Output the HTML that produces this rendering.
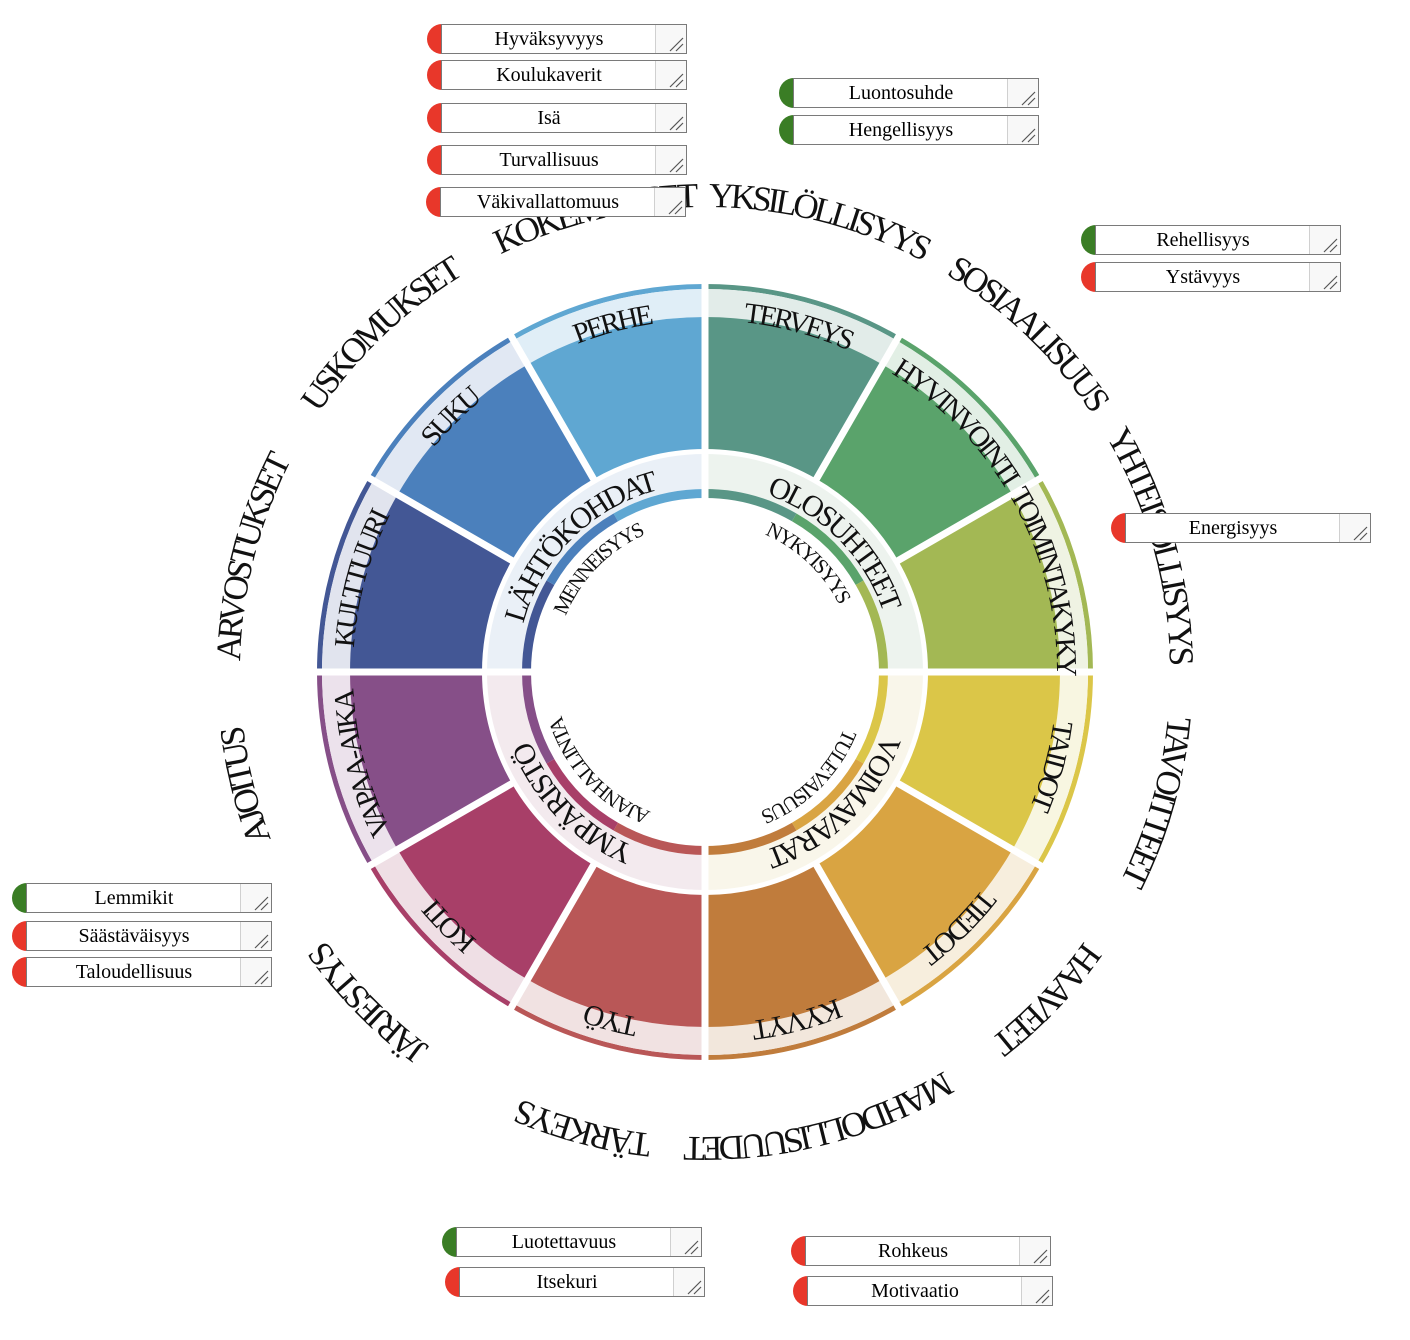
<!DOCTYPE html>
<html><head><meta charset="utf-8">
<style>
html,body{margin:0;padding:0;background:#fff;}
body{width:1410px;height:1340px;position:relative;overflow:hidden;font-family:"Liberation Serif",serif;}
svg{position:absolute;left:0;top:0;}
.t{font-family:"Liberation Serif",serif;fill:#111;}
.b{position:absolute;height:30px;width:262px;}
.b .c{position:absolute;left:0;top:0;width:30px;height:30px;border-radius:15px;}
.b .bx{position:absolute;left:14px;top:0;width:244px;height:28px;border:1px solid #7a7a7a;background:#fff;}
.b .tx{position:absolute;left:0;top:0;width:214px;height:28px;line-height:29px;text-align:center;font-size:20px;color:#000;font-family:"Liberation Serif",serif;}
.b .g{position:absolute;right:0;top:0;width:30px;height:28px;background:#f8f8f8;border-left:1px solid #d0d0d0;}
.b .g svg{position:static;}
.r{background:#e8372a;} .gr{background:#3a7d25;}
</style></head><body>
<svg width="1410" height="1340" viewBox="0 0 1410 1340">
<defs>
<path id="o1" d="M705,207 A465,465 0 1 1 705,1137 A465,465 0 1 1 705,207"/>
<path id="o2" d="M705,1137 A465,465 0 1 1 705,207 A465,465 0 1 1 705,1137"/>
<path id="s1" d="M705,320 A352,352 0 1 1 705,1024 A352,352 0 1 1 705,320"/>
<path id="s2" d="M705,1024 A352,352 0 1 1 705,320 A352,352 0 1 1 705,1024"/>
<path id="q1" d="M705,484 A188,188 0 1 1 705,860 A188,188 0 1 1 705,484"/>
<path id="m1" d="M705,522 A150,150 0 1 1 705,822 A150,150 0 1 1 705,522"/>
</defs>
<g transform="rotate(-90 705 672)" fill="none">
<g stroke-width="5">
<circle cx="705" cy="672" r="385.5" pathLength="360" stroke="#5fa7d2" stroke-dasharray="30 330" stroke-dashoffset="30"/>
<circle cx="705" cy="672" r="385.5" pathLength="360" stroke="#599686" stroke-dasharray="30 330" stroke-dashoffset="0"/>
<circle cx="705" cy="672" r="385.5" pathLength="360" stroke="#5aa36b" stroke-dasharray="30 330" stroke-dashoffset="-30"/>
<circle cx="705" cy="672" r="385.5" pathLength="360" stroke="#a3b854" stroke-dasharray="30 330" stroke-dashoffset="-60"/>
<circle cx="705" cy="672" r="385.5" pathLength="360" stroke="#dbc648" stroke-dasharray="30 330" stroke-dashoffset="-90"/>
<circle cx="705" cy="672" r="385.5" pathLength="360" stroke="#d9a442" stroke-dasharray="30 330" stroke-dashoffset="-120"/>
<circle cx="705" cy="672" r="385.5" pathLength="360" stroke="#c07c3c" stroke-dasharray="30 330" stroke-dashoffset="-150"/>
<circle cx="705" cy="672" r="385.5" pathLength="360" stroke="#b95757" stroke-dasharray="30 330" stroke-dashoffset="-180"/>
<circle cx="705" cy="672" r="385.5" pathLength="360" stroke="#a83f68" stroke-dasharray="30 330" stroke-dashoffset="-210"/>
<circle cx="705" cy="672" r="385.5" pathLength="360" stroke="#864f88" stroke-dasharray="30 330" stroke-dashoffset="-240"/>
<circle cx="705" cy="672" r="385.5" pathLength="360" stroke="#435795" stroke-dasharray="30 330" stroke-dashoffset="-270"/>
<circle cx="705" cy="672" r="385.5" pathLength="360" stroke="#4b80bc" stroke-dasharray="30 330" stroke-dashoffset="-300"/>
</g>
<g stroke-width="28">
<circle cx="705" cy="672" r="369" pathLength="360" stroke="#e0eef7" stroke-dasharray="30 330" stroke-dashoffset="30"/>
<circle cx="705" cy="672" r="369" pathLength="360" stroke="#e2ece9" stroke-dasharray="30 330" stroke-dashoffset="0"/>
<circle cx="705" cy="672" r="369" pathLength="360" stroke="#e2efe5" stroke-dasharray="30 330" stroke-dashoffset="-30"/>
<circle cx="705" cy="672" r="369" pathLength="360" stroke="#eff3e3" stroke-dasharray="30 330" stroke-dashoffset="-60"/>
<circle cx="705" cy="672" r="369" pathLength="360" stroke="#f8f6e1" stroke-dasharray="30 330" stroke-dashoffset="-90"/>
<circle cx="705" cy="672" r="369" pathLength="360" stroke="#f7eedd" stroke-dasharray="30 330" stroke-dashoffset="-120"/>
<circle cx="705" cy="672" r="369" pathLength="360" stroke="#f2e7dc" stroke-dasharray="30 330" stroke-dashoffset="-150"/>
<circle cx="705" cy="672" r="369" pathLength="360" stroke="#f1e2e2" stroke-dasharray="30 330" stroke-dashoffset="-180"/>
<circle cx="705" cy="672" r="369" pathLength="360" stroke="#efdfe5" stroke-dasharray="30 330" stroke-dashoffset="-210"/>
<circle cx="705" cy="672" r="369" pathLength="360" stroke="#ece2ec" stroke-dasharray="30 330" stroke-dashoffset="-240"/>
<circle cx="705" cy="672" r="369" pathLength="360" stroke="#e1e4ee" stroke-dasharray="30 330" stroke-dashoffset="-270"/>
<circle cx="705" cy="672" r="369" pathLength="360" stroke="#e1e8f3" stroke-dasharray="30 330" stroke-dashoffset="-300"/>
</g>
<g stroke-width="132">
<circle cx="705" cy="672" r="289" pathLength="360" stroke="#5fa7d2" stroke-dasharray="30 330" stroke-dashoffset="30"/>
<circle cx="705" cy="672" r="289" pathLength="360" stroke="#599686" stroke-dasharray="30 330" stroke-dashoffset="0"/>
<circle cx="705" cy="672" r="289" pathLength="360" stroke="#5aa36b" stroke-dasharray="30 330" stroke-dashoffset="-30"/>
<circle cx="705" cy="672" r="289" pathLength="360" stroke="#a3b854" stroke-dasharray="30 330" stroke-dashoffset="-60"/>
<circle cx="705" cy="672" r="289" pathLength="360" stroke="#dbc648" stroke-dasharray="30 330" stroke-dashoffset="-90"/>
<circle cx="705" cy="672" r="289" pathLength="360" stroke="#d9a442" stroke-dasharray="30 330" stroke-dashoffset="-120"/>
<circle cx="705" cy="672" r="289" pathLength="360" stroke="#c07c3c" stroke-dasharray="30 330" stroke-dashoffset="-150"/>
<circle cx="705" cy="672" r="289" pathLength="360" stroke="#b95757" stroke-dasharray="30 330" stroke-dashoffset="-180"/>
<circle cx="705" cy="672" r="289" pathLength="360" stroke="#a83f68" stroke-dasharray="30 330" stroke-dashoffset="-210"/>
<circle cx="705" cy="672" r="289" pathLength="360" stroke="#864f88" stroke-dasharray="30 330" stroke-dashoffset="-240"/>
<circle cx="705" cy="672" r="289" pathLength="360" stroke="#435795" stroke-dasharray="30 330" stroke-dashoffset="-270"/>
<circle cx="705" cy="672" r="289" pathLength="360" stroke="#4b80bc" stroke-dasharray="30 330" stroke-dashoffset="-300"/>
</g>
<g stroke-width="35">
<circle cx="705" cy="672" r="200.5" pathLength="360" stroke="#eaf0f7" stroke-dasharray="90 270" stroke-dashoffset="90"/>
<circle cx="705" cy="672" r="200.5" pathLength="360" stroke="#edf3ee" stroke-dasharray="90 270" stroke-dashoffset="0"/>
<circle cx="705" cy="672" r="200.5" pathLength="360" stroke="#f9f6ea" stroke-dasharray="90 270" stroke-dashoffset="-90"/>
<circle cx="705" cy="672" r="200.5" pathLength="360" stroke="#f3eaee" stroke-dasharray="90 270" stroke-dashoffset="-180"/>
</g>
<g stroke-width="9">
<circle cx="705" cy="672" r="178.5" pathLength="360" stroke="#5fa7d2" stroke-dasharray="30 330" stroke-dashoffset="30"/>
<circle cx="705" cy="672" r="178.5" pathLength="360" stroke="#599686" stroke-dasharray="30 330" stroke-dashoffset="0"/>
<circle cx="705" cy="672" r="178.5" pathLength="360" stroke="#5aa36b" stroke-dasharray="30 330" stroke-dashoffset="-30"/>
<circle cx="705" cy="672" r="178.5" pathLength="360" stroke="#a3b854" stroke-dasharray="30 330" stroke-dashoffset="-60"/>
<circle cx="705" cy="672" r="178.5" pathLength="360" stroke="#dbc648" stroke-dasharray="30 330" stroke-dashoffset="-90"/>
<circle cx="705" cy="672" r="178.5" pathLength="360" stroke="#d9a442" stroke-dasharray="30 330" stroke-dashoffset="-120"/>
<circle cx="705" cy="672" r="178.5" pathLength="360" stroke="#c07c3c" stroke-dasharray="30 330" stroke-dashoffset="-150"/>
<circle cx="705" cy="672" r="178.5" pathLength="360" stroke="#b95757" stroke-dasharray="30 330" stroke-dashoffset="-180"/>
<circle cx="705" cy="672" r="178.5" pathLength="360" stroke="#a83f68" stroke-dasharray="30 330" stroke-dashoffset="-210"/>
<circle cx="705" cy="672" r="178.5" pathLength="360" stroke="#864f88" stroke-dasharray="30 330" stroke-dashoffset="-240"/>
<circle cx="705" cy="672" r="178.5" pathLength="360" stroke="#435795" stroke-dasharray="30 330" stroke-dashoffset="-270"/>
<circle cx="705" cy="672" r="178.5" pathLength="360" stroke="#4b80bc" stroke-dasharray="30 330" stroke-dashoffset="-300"/>
</g>
</g>
<g stroke="#fff" stroke-width="7">
<line x1="705" y1="500" x2="705" y2="278"/>
<line x1="705" y1="500" x2="705" y2="278" transform="rotate(90 705 672)"/>
<line x1="705" y1="500" x2="705" y2="278" transform="rotate(180 705 672)"/>
<line x1="705" y1="500" x2="705" y2="278" transform="rotate(270 705 672)"/>
<line x1="705" y1="452" x2="705" y2="278" transform="rotate(30 705 672)"/>
<line x1="705" y1="452" x2="705" y2="278" transform="rotate(60 705 672)"/>
<line x1="705" y1="452" x2="705" y2="278" transform="rotate(120 705 672)"/>
<line x1="705" y1="452" x2="705" y2="278" transform="rotate(150 705 672)"/>
<line x1="705" y1="452" x2="705" y2="278" transform="rotate(210 705 672)"/>
<line x1="705" y1="452" x2="705" y2="278" transform="rotate(240 705 672)"/>
<line x1="705" y1="452" x2="705" y2="278" transform="rotate(300 705 672)"/>
<line x1="705" y1="452" x2="705" y2="278" transform="rotate(330 705 672)"/>
</g>
<g class="t" font-size="35" letter-spacing="-4" text-anchor="middle">
<text><textPath href="#o2" startOffset="46.2%">KOKEMUKSET</textPath></text>
<text><textPath href="#o2" startOffset="53.9%">YKSILÖLLISYYS</textPath></text>
<text><textPath href="#o1" startOffset="12.1%">SOSIAALISUUS</textPath></text>
<text><textPath href="#o1" startOffset="20.6%">YHTEISÖLLISYYS</textPath></text>
<text><textPath href="#o1" startOffset="29.4%">TAVOITTEET</textPath></text>
<text><textPath href="#o1" startOffset="37.1%">HAAVEET</textPath></text>
<text><textPath href="#o1" startOffset="46%">MAHDOLLISUUDET</textPath></text>
<text><textPath href="#o1" startOffset="54.1%">TÄRKEYS</textPath></text>
<text><textPath href="#o1" startOffset="62.6%">JÄRJESTYS</textPath></text>
<text><textPath href="#o1" startOffset="71.1%">AJOITUS</textPath></text>
<text><textPath href="#o1" startOffset="78.9%">ARVOSTUKSET</textPath></text>
<text><textPath href="#o1" startOffset="87.8%">USKOMUKSET</textPath></text>
</g>
<g class="t" font-size="29" letter-spacing="-3" text-anchor="middle">
<text><textPath href="#s2" startOffset="45.83%">PERHE</textPath></text>
<text><textPath href="#s2" startOffset="54.17%">TERVEYS</textPath></text>
<text><textPath href="#s1" startOffset="12.5%">HYVINVOINTI</textPath></text>
<text><textPath href="#s1" startOffset="20.83%">TOIMINTAKYKY</textPath></text>
<text><textPath href="#s1" startOffset="29.17%">TAIDOT</textPath></text>
<text><textPath href="#s1" startOffset="37.5%">TIEDOT</textPath></text>
<text><textPath href="#s1" startOffset="45.83%">KYVYT</textPath></text>
<text><textPath href="#s1" startOffset="54.17%">TYÖ</textPath></text>
<text><textPath href="#s1" startOffset="62.5%">KOTI</textPath></text>
<text><textPath href="#s1" startOffset="70.83%">VAPAA-AIKA</textPath></text>
<text><textPath href="#s1" startOffset="79.17%">KULTTUURI</textPath></text>
<text><textPath href="#s1" startOffset="87.5%">SUKU</textPath></text>
</g>
<g class="t" font-size="30" letter-spacing="-2.5" text-anchor="middle">
<text><textPath href="#q1" startOffset="87.5%">LÄHTÖKOHDAT</textPath></text>
<text><textPath href="#q1" startOffset="12.5%">OLOSUHTEET</textPath></text>
<text><textPath href="#q1" startOffset="37.5%">VOIMAVARAT</textPath></text>
<text><textPath href="#q1" startOffset="62.5%">YMPÄRISTÖ</textPath></text>
</g>
<g class="t" font-size="21" letter-spacing="-2" text-anchor="middle">
<text><textPath href="#m1" startOffset="87.2%">MENNEISYYS</textPath></text>
<text><textPath href="#m1" startOffset="12%">NYKYISYYS</textPath></text>
<text><textPath href="#m1" startOffset="37.5%">TULEVAISUUS</textPath></text>
<text><textPath href="#m1" startOffset="63%">AJANHALLINTA</textPath></text>
</g>
</svg>

<div class="b" style="left:427px;top:24px"><div class="c r"></div><div class="bx"><div class="tx">Hyväksyvyys</div><div class="g"><svg width="30" height="28"><path d="M14 26 L27 13 M20 26 L27 19" stroke="#555" stroke-width="1.2"/></svg></div></div></div>
<div class="b" style="left:427px;top:60px"><div class="c r"></div><div class="bx"><div class="tx">Koulukaverit</div><div class="g"><svg width="30" height="28"><path d="M14 26 L27 13 M20 26 L27 19" stroke="#555" stroke-width="1.2"/></svg></div></div></div>
<div class="b" style="left:427px;top:103px"><div class="c r"></div><div class="bx"><div class="tx">Isä</div><div class="g"><svg width="30" height="28"><path d="M14 26 L27 13 M20 26 L27 19" stroke="#555" stroke-width="1.2"/></svg></div></div></div>
<div class="b" style="left:427px;top:145px"><div class="c r"></div><div class="bx"><div class="tx">Turvallisuus</div><div class="g"><svg width="30" height="28"><path d="M14 26 L27 13 M20 26 L27 19" stroke="#555" stroke-width="1.2"/></svg></div></div></div>
<div class="b" style="left:426px;top:187px"><div class="c r"></div><div class="bx"><div class="tx">Väkivallattomuus</div><div class="g"><svg width="30" height="28"><path d="M14 26 L27 13 M20 26 L27 19" stroke="#555" stroke-width="1.2"/></svg></div></div></div>
<div class="b" style="left:779px;top:78px"><div class="c gr"></div><div class="bx"><div class="tx">Luontosuhde</div><div class="g"><svg width="30" height="28"><path d="M14 26 L27 13 M20 26 L27 19" stroke="#555" stroke-width="1.2"/></svg></div></div></div>
<div class="b" style="left:779px;top:115px"><div class="c gr"></div><div class="bx"><div class="tx">Hengellisyys</div><div class="g"><svg width="30" height="28"><path d="M14 26 L27 13 M20 26 L27 19" stroke="#555" stroke-width="1.2"/></svg></div></div></div>
<div class="b" style="left:1081px;top:225px"><div class="c gr"></div><div class="bx"><div class="tx">Rehellisyys</div><div class="g"><svg width="30" height="28"><path d="M14 26 L27 13 M20 26 L27 19" stroke="#555" stroke-width="1.2"/></svg></div></div></div>
<div class="b" style="left:1081px;top:262px"><div class="c r"></div><div class="bx"><div class="tx">Ystävyys</div><div class="g"><svg width="30" height="28"><path d="M14 26 L27 13 M20 26 L27 19" stroke="#555" stroke-width="1.2"/></svg></div></div></div>
<div class="b" style="left:1111px;top:513px"><div class="c r"></div><div class="bx"><div class="tx">Energisyys</div><div class="g"><svg width="30" height="28"><path d="M14 26 L27 13 M20 26 L27 19" stroke="#555" stroke-width="1.2"/></svg></div></div></div>
<div class="b" style="left:12px;top:883px"><div class="c gr"></div><div class="bx"><div class="tx">Lemmikit</div><div class="g"><svg width="30" height="28"><path d="M14 26 L27 13 M20 26 L27 19" stroke="#555" stroke-width="1.2"/></svg></div></div></div>
<div class="b" style="left:12px;top:921px"><div class="c r"></div><div class="bx"><div class="tx">Säästäväisyys</div><div class="g"><svg width="30" height="28"><path d="M14 26 L27 13 M20 26 L27 19" stroke="#555" stroke-width="1.2"/></svg></div></div></div>
<div class="b" style="left:12px;top:957px"><div class="c r"></div><div class="bx"><div class="tx">Taloudellisuus</div><div class="g"><svg width="30" height="28"><path d="M14 26 L27 13 M20 26 L27 19" stroke="#555" stroke-width="1.2"/></svg></div></div></div>
<div class="b" style="left:442px;top:1227px"><div class="c gr"></div><div class="bx"><div class="tx">Luotettavuus</div><div class="g"><svg width="30" height="28"><path d="M14 26 L27 13 M20 26 L27 19" stroke="#555" stroke-width="1.2"/></svg></div></div></div>
<div class="b" style="left:445px;top:1267px"><div class="c r"></div><div class="bx"><div class="tx">Itsekuri</div><div class="g"><svg width="30" height="28"><path d="M14 26 L27 13 M20 26 L27 19" stroke="#555" stroke-width="1.2"/></svg></div></div></div>
<div class="b" style="left:791px;top:1236px"><div class="c r"></div><div class="bx"><div class="tx">Rohkeus</div><div class="g"><svg width="30" height="28"><path d="M14 26 L27 13 M20 26 L27 19" stroke="#555" stroke-width="1.2"/></svg></div></div></div>
<div class="b" style="left:793px;top:1276px"><div class="c r"></div><div class="bx"><div class="tx">Motivaatio</div><div class="g"><svg width="30" height="28"><path d="M14 26 L27 13 M20 26 L27 19" stroke="#555" stroke-width="1.2"/></svg></div></div></div>
</body></html>
